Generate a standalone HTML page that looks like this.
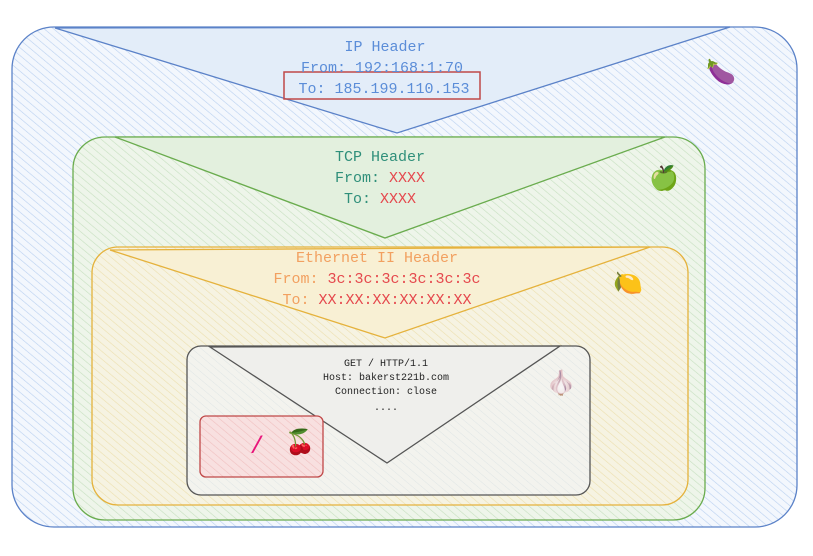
<!DOCTYPE html>
<html><head><style>body{margin:0;background:#fff}svg{display:block}</style></head><body>
<svg width="813" height="556" xmlns="http://www.w3.org/2000/svg" font-family="'Liberation Mono',monospace">
<defs>
<pattern id="hb" width="6" height="6" patternUnits="userSpaceOnUse" patternTransform="rotate(-50)"><rect width="6" height="6" fill="#f3f7fd"/><line x1="0" y1="0" x2="0" y2="6" stroke="#b9d0f0" stroke-width="1.2"/></pattern>
<pattern id="hg" width="6" height="6" patternUnits="userSpaceOnUse" patternTransform="rotate(-50)"><rect width="6" height="6" fill="#eef5ea"/><line x1="0" y1="0" x2="0" y2="6" stroke="#c6e0c0" stroke-width="1.2"/></pattern>
<pattern id="hy" width="6" height="6" patternUnits="userSpaceOnUse" patternTransform="rotate(-50)"><rect width="6" height="6" fill="#f6f3e2"/><line x1="0" y1="0" x2="0" y2="6" stroke="#ecdfae" stroke-width="1.2"/></pattern>
<pattern id="hw" width="6" height="6" patternUnits="userSpaceOnUse" patternTransform="rotate(-50)"><rect width="6" height="6" fill="#f3f3ee"/><line x1="0" y1="0" x2="0" y2="6" stroke="#dfe5e5" stroke-width="1"/></pattern>
<pattern id="hr" width="6" height="6" patternUnits="userSpaceOnUse" patternTransform="rotate(-50)"><rect width="6" height="6" fill="#f8e0e0"/><line x1="0" y1="0" x2="0" y2="6" stroke="#f0c0c0" stroke-width="1.2"/></pattern>
</defs>
<rect x="12" y="27" width="785" height="500" rx="42" fill="url(#hb)" stroke="#5b82c8" stroke-width="1.3"/>
<polygon points="55,28 397,133 730,27" fill="#e3edf9" stroke="#5b82c8" stroke-width="1.3"/>
<rect x="73" y="137" width="632" height="383" rx="32" fill="url(#hg)" stroke="#6aac4e" stroke-width="1.3"/>
<polygon points="115,137 385,238 665,137" fill="#e3f0de" stroke="#6aac4e" stroke-width="1.3"/>
<rect x="92" y="247" width="596" height="258" rx="26" fill="url(#hy)" stroke="#e5b23c" stroke-width="1.3"/>
<polygon points="110,250 385,338 650,247" fill="#f8f0d4" stroke="#e5b23c" stroke-width="1.3"/>
<rect x="187" y="346" width="403" height="149" rx="14" fill="url(#hw)" stroke="#555" stroke-width="1.3"/>
<polygon points="210,347 387,463 560,346" fill="#efefec" stroke="#555" stroke-width="1.3"/>
<rect x="200" y="416" width="123" height="61" rx="6" fill="url(#hr)" stroke="#c04848" stroke-width="1.3"/>
<rect x="284" y="72" width="196" height="27" fill="none" stroke="#c04848" stroke-width="1.5"/>
<g font-size="15" text-anchor="middle">
<text x="385" y="51" fill="#5b8dd8">IP Header</text>
<text x="382" y="72" fill="#5b8dd8">From: 192:168:1:70</text>
<text x="384" y="93" fill="#5b8dd8">To: 185.199.110.153</text>
<text x="380" y="161" fill="#2f8f7a">TCP Header</text>
<text x="380" y="182" fill="#2f8f7a">From: <tspan fill="#e5484d">XXXX</tspan></text>
<text x="380" y="203" fill="#2f8f7a">To: <tspan fill="#e5484d">XXXX</tspan></text>
<text x="377" y="262" fill="#f2a060">Ethernet II Header</text>
<text x="377" y="283" fill="#f2a060">From: <tspan fill="#e5484d">3c:3c:3c:3c:3c:3c</tspan></text>
<text x="377" y="304" fill="#f2a060">To: <tspan fill="#e5484d">XX:XX:XX:XX:XX:XX</tspan></text>
</g>
<g font-size="10" text-anchor="middle" fill="#222">
<text x="386" y="366">GET / HTTP/1.1</text>
<text x="386" y="380">Host: bakerst221b.com</text>
<text x="386" y="394">Connection: close</text>
<text x="386" y="410">....</text>
</g>
<text x="257" y="453" font-size="24" fill="#e8157a" text-anchor="middle">/</text>
<g font-family="'Noto Color Emoji','DejaVu Sans',sans-serif" font-size="24">
<text x="706" y="80">🍆</text>
<text x="649" y="186">🍏</text>
<text x="613" y="291">🍋</text>
<text x="546" y="391">🧄</text>
<text x="285" y="450">🍒</text>
</g>
</svg>
</body></html>
